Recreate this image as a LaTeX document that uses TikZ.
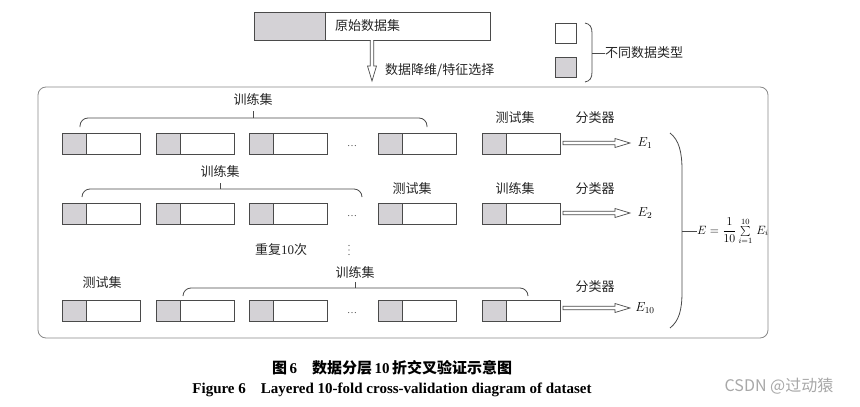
\documentclass[tikz,border=0pt]{standalone}
\usepackage{fix-cm}
\usepackage{fontspec}
\setmainfont{Liberation Serif}
\newfontfamily\cjk{Noto Sans CJK SC}
\definecolor{linec}{HTML}{4A4A4A}
\definecolor{grayf}{HTML}{D4D2D6}
\definecolor{framec}{HTML}{8A8A8A}
\definecolor{wmc}{HTML}{A8A8A8}
\begin{document}
\begin{tikzpicture}[x=1pt,y=-1pt,
  lc/.style={draw=linec, line width=0.8pt},
  blk/.style n args={3}{draw=linec, line width=0.8pt, rectangle, inner sep=0pt, anchor=north west,
    minimum width=#1pt, minimum height=#2pt,
    path picture={\fill[grayf] (path picture bounding box.north west) rectangle ([xshift=#3pt]path picture bounding box.south west);
      \draw[linec,line width=0.8pt] ([xshift=#3pt]path picture bounding box.north west) -- ([xshift=#3pt]path picture bounding box.south west);}},
  sblk/.style={blk={78}{21}{24}},
  lab/.style={inner sep=0pt, font=\fontsize{13}{15}\selectfont\cjk, text=black!85},
  dts/.style={inner sep=0pt, font=\fontsize{10}{12}\selectfont, text=linec},
  elab/.style={inner sep=0pt, font=\fontsize{13}{15}\selectfont},
  harrow/.style={draw=linec, line width=0.7pt, fill=white}
]
\useasboundingbox[fill=white] (0,0) rectangle (860,407);

% top dataset box
\node[blk={236}{28}{71}] (raw) at (254,12) {};
\node[lab, anchor=west] (rawt) at (335,26) {原始数据集};
\draw[harrow] (370.3,40) -- (370.3,66) -- (367.5,66) -- (372,81) -- (376.5,66) -- (373.7,66) -- (373.7,40);
\node[lab, anchor=west] (reduce) at (385,70) {数据降维/特征选择};

% legend
\node[draw=linec, line width=0.8pt, fill=white, anchor=north west, minimum width=21pt, minimum height=20pt, inner sep=0pt] (legw) at (555,23) {};
\node[draw=linec, line width=0.8pt, fill=grayf, anchor=north west, minimum width=21pt, minimum height=20pt, inner sep=0pt] (legg) at (555,57) {};
\draw[lc] (585,23) .. controls (590,24) and (592,27) .. (592,33) -- (592,72) .. controls (592,78) and (590,81) .. (585,82);
\node[lab, anchor=west] (legt) at (605,53) {不同数据类型};
\draw[lc] (592,53) -- (legt.west);

% frame
\draw[draw=framec, line width=0.8pt, rounded corners=8pt] (38,87) rectangle (768,338);

% row 1
\node[sblk] (r1a) at (62,133) {};
\node[sblk] (r1b) at (156,133) {};
\node[sblk] (r1c) at (249,133) {};
\node[dts] (r1d) at (352,146) {\ldots};
\node[sblk] (r1e) at (378,133) {};
\node[sblk] (r1t) at (482,133) {};
\node[lab] (tr1) at (253,100) {训练集};
\draw[lc, rounded corners=8pt] (80,127) -- (80,118) -- (427,118) -- (427,127);
\draw[lc] (253,118) -- (253,111);
\node[lab] (te1) at (515,118) {测试集};
\node[lab] (c1) at (595,118) {分类器};
\node[elab] (E1) at (645,143) {$E_1$};
\draw[harrow] (563,141.2) -- (615,141.2) -- (615,138.5) -- (630,143) -- (615,147.5) -- (615,144.8) -- (563,144.8) -- cycle;

% row 2
\node[sblk] (r2a) at (62,203) {};
\node[sblk] (r2b) at (156,203) {};
\node[sblk] (r2c) at (249,203) {};
\node[dts] (r2d) at (352,216) {\ldots};
\node[sblk] (r2e) at (378,203) {};
\node[sblk] (r2t) at (482,203) {};
\node[lab] (tr2) at (220,172) {训练集};
\draw[lc, rounded corners=8pt] (82,197) -- (82,189) -- (362,189) -- (362,197);
\draw[lc] (220,189) -- (220,183);
\node[lab] (te2) at (412,189) {测试集};
\node[lab] (tr2b) at (515,189) {训练集};
\node[lab] (c2) at (595,189) {分类器};
\node[elab] (E2) at (645,213) {$E_2$};
\draw[harrow] (563,211.2) -- (615,211.2) -- (615,208.5) -- (630,213) -- (615,217.5) -- (615,214.8) -- (563,214.8) -- cycle;

% repeat
\node[lab, anchor=center] (rep) at (281,250) {重复\fontspec{Liberation Serif}10\cjk 次};
\coordinate (vd) at (349,250);
\foreach \dy in {-4.5,0,4.5} \fill[linec] ([yshift=\dy pt]vd) circle (0.6pt);

% row 3
\node[sblk] (r3a) at (62,300) {};
\node[sblk] (r3b) at (156,300) {};
\node[sblk] (r3c) at (249,300) {};
\node[dts] (r3d) at (352,313) {\ldots};
\node[sblk] (r3e) at (378,300) {};
\node[sblk] (r3t) at (482,300) {};
\node[lab] (te3) at (102,283) {测试集};
\node[lab] (tr3) at (355,273) {训练集};
\draw[lc, rounded corners=8pt] (183,296) -- (183,288) -- (528,288) -- (528,296);
\draw[lc] (355,288) -- (355,282);
\node[lab] (c3) at (595,287) {分类器};
\node[elab] (E10) at (645,308) {$E_{10}$};
\draw[harrow] (563,306.2) -- (615,306.2) -- (615,303.5) -- (630,308) -- (615,312.5) -- (615,309.8) -- (563,309.8) -- cycle;

% big brace and formula
\draw[lc] (670,133) .. controls (679,140) and (682,152) .. (682,170) -- (682,292) .. controls (682,310) and (679,321) .. (670,328);
\node[inner sep=0pt, anchor=west, font=\fontsize{12}{14}\selectfont] (form) at (697,231) {$\displaystyle E=\frac{1}{10}\textstyle\sum\limits_{i=1}^{10}\,E_i$};
\draw[lc] (682,231) -- (form.west);

% caption
\node[inner sep=0pt, font=\fontsize{15}{17}\selectfont\bfseries] (cap1) at (392,368) {{\cjk\bfseries 图}\,6\quad{\cjk\bfseries 数据分层}\,10\,{\cjk\bfseries 折交叉验证示意图}};
\node[inner sep=0pt, font=\fontsize{15}{17}\selectfont\bfseries] (cap2) at (392,390) {Figure 6\quad Layered 10-fold cross-validation diagram of dataset};

% watermark
\node[inner sep=0pt, font=\fontsize{16}{18}\selectfont\cjk, text=wmc] (wm) at (779,386) {CSDN @过动猿};
\end{tikzpicture}
\end{document}
